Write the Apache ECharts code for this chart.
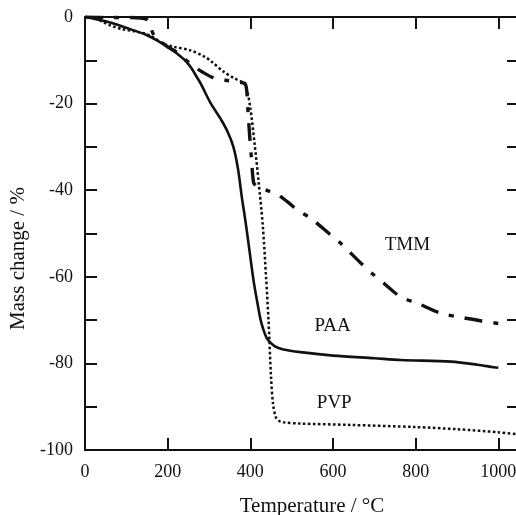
<!DOCTYPE html>
<html>
<head>
<meta charset="utf-8">
<script src="https://cdn.jsdelivr.net/npm/echarts@6/dist/echarts.min.js"></script>
<style>html,body{margin:0;padding:0;background:#fff;overflow:hidden}#c{width:516px;height:515px}</style>
</head>
<body>
<div id="c"></div>
<script>
// ---- data (temperature °C, mass change %) ----
const PAA_T = [0, 50, 100, 150, 185, 200, 215, 230, 245, 258, 270, 280, 304, 328, 345, 359, 370, 380, 388, 398, 408, 418, 425, 432, 440, 450, 460, 480, 521, 600, 700, 764, 885, 950, 989, 1000];
const PAA_M = [0, -1.0, -2.5, -4.2, -6.0, -6.9, -7.9, -9.0, -10.3, -11.9, -13.8, -15.4, -19.9, -23.5, -26.5, -30.0, -35.0, -42.0, -47.0, -54.0, -61.0, -66.5, -70.0, -72.3, -74.2, -75.3, -76.1, -76.8, -77.4, -78.2, -78.8, -79.2, -79.6, -80.3, -80.9, -81.0];

const PVP_T = [0, 20, 40, 60, 90, 120, 150, 170, 185, 216, 255, 290, 305, 335, 360, 384, 392, 400, 410, 420, 430, 438, 444, 450, 455, 462, 470, 480, 521, 640, 800, 900, 1000, 1050];
const PVP_M = [0, -0.2, -1.0, -1.9, -2.8, -3.3, -4.0, -5.0, -6.0, -6.9, -7.7, -9.2, -10.2, -12.6, -14.1, -15.3, -17.0, -21.0, -29.0, -38.0, -48.0, -60.0, -70.0, -83.0, -89.5, -92.5, -93.3, -93.6, -93.9, -94.2, -94.7, -95.2, -95.9, -96.4];

const TMM_T = [0, 50, 110, 140, 151, 158, 163, 170, 178, 200, 220, 240, 260, 284, 310, 340, 370, 388, 393, 398, 403, 408, 415, 425, 445, 466, 490, 514, 545, 594, 618, 667, 699, 723, 763, 804, 860, 917, 960, 1000];
const TMM_M = [0, -0.1, -0.1, -0.3, -0.7, -2.0, -3.5, -4.6, -5.3, -6.9, -8.0, -9.6, -11.2, -12.7, -14.0, -14.6, -15.0, -15.5, -20.0, -27.0, -33.0, -38.3, -39.0, -39.5, -40.2, -41.0, -42.7, -44.6, -46.4, -50.3, -52.2, -56.8, -59.6, -61.5, -64.6, -66.1, -68.4, -69.5, -70.2, -70.8];

const X_TICKS = [0, 200, 400, 600, 800, 1000];
const Y_TICKS = [0, -20, -40, -60, -80, -100];

// label anchors (data coordinates)
const LABEL_TMM = [780, -52.7];
const LABEL_PAA = [599, -71.4];
const LABEL_PVP = [603, -89.1];

const pairs = (xs, ys) => xs.map((x, i) => [x, ys[i]]);
const SERIF = '"Liberation Serif", "DejaVu Serif", serif';
const INK = '#111';

const chart = echarts.init(document.getElementById('c'), null, { renderer: 'canvas' });

const tickStyle = { color: INK, width: 2 };
const baseX = {
  type: 'value', min: 0, max: 1050, interval: 200,
  axisLine: { show: true, onZero: false, lineStyle: { color: INK, width: 2 } },
  axisTick: { show: true, inside: true, length: 12, lineStyle: tickStyle },
  splitLine: { show: false }
};
const baseY = {
  type: 'value', min: -100, max: 0, interval: 20,
  axisLine: { show: true, onZero: false, lineStyle: { color: INK, width: 2 } },
  axisTick: { show: true, inside: true, length: 12, lineStyle: tickStyle },
  minorTick: { show: true, splitNumber: 2, length: 12, lineStyle: tickStyle },
  splitLine: { show: false }
};

function tag(name, coord) {
  return {
    silent: true,
    symbol: 'circle', symbolSize: 0,
    itemStyle: { color: 'transparent' },
    label: { show: true, position: 'inside', formatter: name, color: INK, fontFamily: SERIF, fontSize: 19 },
    data: [{ coord: coord }]
  };
}

chart.setOption({
  animation: false,
  backgroundColor: '#fff',
  grid: { left: 85, width: 434, top: 17, height: 433, containLabel: false, outerBoundsMode: 'none' },
  xAxis: [
    Object.assign({}, baseX, {
      position: 'bottom',
      name: 'Temperature / °C', nameLocation: 'middle', nameGap: 46,
      nameTextStyle: { color: INK, fontFamily: SERIF, fontSize: 21, padding: [0, 0, 0, 20] },
      axisLabel: {
        show: true, color: INK, fontFamily: SERIF, fontSize: 18, margin: 13,
        customValues: X_TICKS, formatter: v => String(v)
      }
    }),
    Object.assign({}, baseX, { position: 'top', axisLabel: { show: false } })
  ],
  yAxis: [
    Object.assign({}, baseY, {
      position: 'left',
      name: 'Mass change / %', nameLocation: 'middle', nameGap: 53,
      nameTextStyle: { color: INK, fontFamily: SERIF, fontSize: 21, padding: [0, 50, 0, 0] },
      axisLabel: {
        show: true, color: INK, fontFamily: SERIF, fontSize: 18, margin: 12,
        customValues: Y_TICKS, formatter: v => String(v)
      }
    }),
    Object.assign({}, baseY, { position: 'right', axisLabel: { show: false } })
  ],
  series: [
    {
      name: 'PAA', type: 'line', xAxisIndex: 0, yAxisIndex: 0,
      data: pairs(PAA_T, PAA_M), showSymbol: false, smooth: 0.3, silent: true,
      lineStyle: { color: INK, width: 2.6, type: 'solid' },
      markPoint: tag('PAA', LABEL_PAA)
    },
    {
      name: 'PVP', type: 'line', xAxisIndex: 0, yAxisIndex: 0,
      data: pairs(PVP_T, PVP_M), showSymbol: false, smooth: 0.3, silent: true,
      lineStyle: { color: INK, width: 2.5, type: [2.6, 2.4], cap: 'butt' },
      markPoint: tag('PVP', LABEL_PVP)
    },
    {
      name: 'TMM', type: 'line', xAxisIndex: 0, yAxisIndex: 0,
      data: pairs(TMM_T, TMM_M), showSymbol: false, smooth: 0.3, silent: true,
      lineStyle: { color: INK, width: 3.4, type: [18, 11, 5, 11], cap: 'butt' },
      markPoint: tag('TMM', LABEL_TMM)
    }
  ]
});
</script>
</body>
</html>
